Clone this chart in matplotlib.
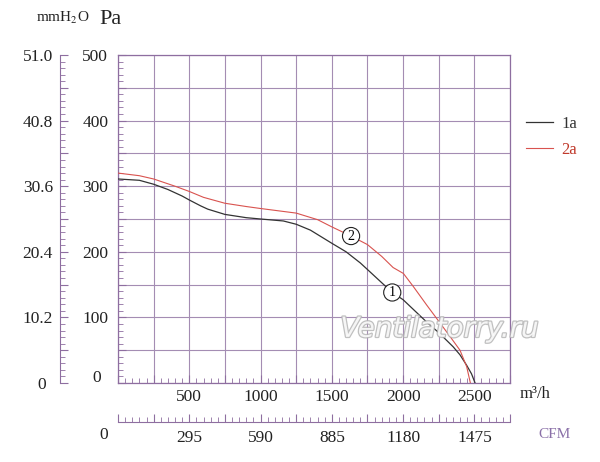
import matplotlib
matplotlib.use("Agg")
import matplotlib.pyplot as plt
import matplotlib.patheffects as pe
import numpy as np

plt.rcParams['font.family'] = ['Liberation Serif', 'DejaVu Serif']
plt.rcParams['mathtext.fontset'] = 'stix'

# ---- data (flow m3/h, pressure Pa) ----
flow_1a = [0, 150, 250, 350, 450, 500, 580, 630, 750, 900, 1000, 1160, 1250,
           1350, 1500, 1600, 1700, 1750, 1924, 2000, 2165, 2254, 2352, 2399,
           2446, 2480, 2505]
pres_1a = [311, 309, 303, 295, 285, 279, 270, 265, 257, 252, 250, 247, 242,
           233, 213, 200, 183, 173, 138, 127, 93, 76, 55, 43, 27, 14, 0]

flow_2a = [0, 150, 250, 400, 500, 600, 750, 900, 1000, 1250, 1400, 1500, 1635,
           1750, 1850, 1930, 2002, 2072, 2165, 2254, 2329, 2399, 2446, 2472]
pres_2a = [320, 316, 311, 300, 292, 283, 274, 269, 266, 259, 249, 238, 224,
           211, 193, 176, 167, 147, 119, 93, 71, 50, 25, 0]

series_labels = ['1a', '2a']
series_colors = ['#333333', '#d9534f']

pa_labels = [100, 200, 300, 400, 500]
mm_labels = ['10.2', '20.4', '30.6', '40.8', '51.0']
flow_labels = [500, 1000, 1500, 2000, 2500]
cfm_labels = ['295', '590', '885', '1180', '1475']

# circled curve markers: (flow, pressure, text)
markers = [(1924, 138, '1'), (1635, 224, '2')]

grid_col = '#a48db3'
axis_col = '#8e6ea0'
fs = 12.5

fig = plt.figure(figsize=(6, 4.62), dpi=100)
ax = fig.add_axes([118/600, 1-383/462, 392/600, 328/462])

l1, = ax.plot(flow_1a, pres_1a, color=series_colors[0], lw=0.9, label=series_labels[0], zorder=3)
l2, = ax.plot(flow_2a, pres_2a, color=series_colors[1], lw=0.8, label=series_labels[1], zorder=3)

ax.set_xlim(0, 2750)
ax.set_ylim(0, 500)

# grid every 250 m3/h and 50 Pa
ax.set_xticks(np.arange(0, 2751, 250))
ax.set_xticklabels([str(v) if v in flow_labels else '' for v in np.arange(0, 2751, 250)])
ax.set_xticks(np.arange(0, 2751, 50), minor=True)
ax.set_yticks(np.arange(0, 501, 50))
ax.set_yticklabels([str(v) if v in pa_labels else '' for v in np.arange(0, 501, 50)])
ax.set_yticks(np.arange(0, 501, 10), minor=True)
ax.grid(True, which='major', color=grid_col, lw=0.8)
ax.tick_params(which='both', direction='in', colors=axis_col, labelcolor='#222222',
               labelsize=fs, top=False, right=False)
ax.tick_params(axis='y', which='major', length=6, pad=7)
ax.tick_params(axis='y', which='minor', length=3.5)
ax.tick_params(axis='x', which='major', length=6, pad=4)
ax.tick_params(axis='x', which='minor', length=3.5)
for s in ax.spines.values():
    s.set_color(axis_col)
    s.set_linewidth(0.9)

# mmH2O scale on the far left
sec_y = ax.secondary_yaxis(-0.148, functions=(lambda p: p*51.0/500, lambda m: m*500/51.0))
mm_ticks = np.round(np.arange(0, 51.01, 5.1), 2)
sec_y.set_yticks(mm_ticks)
sec_y.set_yticklabels([mm_labels[int(round(t/10.2))-1] if (i % 2 == 0 and i > 0) else ''
                       for i, t in enumerate(mm_ticks)])
sec_y.set_yticks(np.arange(0, 51.01, 1.02), minor=True)
sec_y.tick_params(which='both', direction='in', colors=axis_col, labelcolor='#222222', labelsize=fs)
sec_y.tick_params(which='major', length=6, pad=5)
sec_y.tick_params(which='minor', length=3.5)
sec_y.spines['left'].set_color(axis_col)

# CFM scale under the chart
sec_x = ax.secondary_xaxis(-0.119)
sec_x.set_xticks(np.arange(0, 2751, 250))
sec_x.set_xticklabels([cfm_labels[flow_labels.index(v)] if v in flow_labels else ''
                       for v in np.arange(0, 2751, 250)])
sec_x.set_xticks(np.arange(0, 2751, 50), minor=True)
sec_x.tick_params(which='both', direction='in', colors=axis_col, labelcolor='#222222', labelsize=fs)
sec_x.tick_params(which='major', length=6, pad=6)
sec_x.tick_params(which='minor', length=3.5)
sec_x.spines['bottom'].set_color(axis_col)

# zero labels sit a little apart from the others
fig.text(97/600, 1-378/462, '0', fontsize=fs, ha='center', va='center', color='#222222')
fig.text(42/600, 1-385/462, '0', fontsize=fs, ha='center', va='center', color='#222222')
fig.text(104/600, 1-435/462, '0', fontsize=fs, ha='center', va='center', color='#222222')

# units
fig.text(36/600, 1-18/462, r'mmH$_2$O', fontsize=11, ha='left', va='center', color='#222222')
fig.text(99/600, 1-19/462, 'Pa', fontsize=16, ha='left', va='center', color='#222222')
fig.text(520/600, 1-394/462, 'm³/h', fontsize=12, ha='left', va='center', color='#222222')
fig.text(538/600, 1-435/462, 'CFM', fontsize=11, ha='left', va='center', color='#8a70a8')

# circled curve numbers
for fx, py, t in markers:
    ax.text(fx, py, t, fontsize=10, ha='center', va='center', zorder=5,
            bbox=dict(boxstyle='circle,pad=0.15', fc='white', ec='#222222', lw=0.8))

# watermark
ax.text(0.82, 0.165, 'Ventilatorry.ru', transform=ax.transAxes, fontsize=20,
        family='DejaVu Sans', style='italic', ha='center', va='center',
        color='white', alpha=0.85, zorder=4,
        path_effects=[pe.withStroke(linewidth=1.8, foreground='#b5b5b5')])

leg = fig.legend(handles=[l1, l2], loc='upper left', bbox_to_anchor=(526/600, 1-116/462),
                 frameon=False, fontsize=12, handlelength=1.6, handletextpad=0.5,
                 labelspacing=0.6, borderpad=0, borderaxespad=0)
for txt, c in zip(leg.get_texts(), ['#333333', '#c0392b']):
    txt.set_color(c)

fig.savefig('out.png', dpi=100)
